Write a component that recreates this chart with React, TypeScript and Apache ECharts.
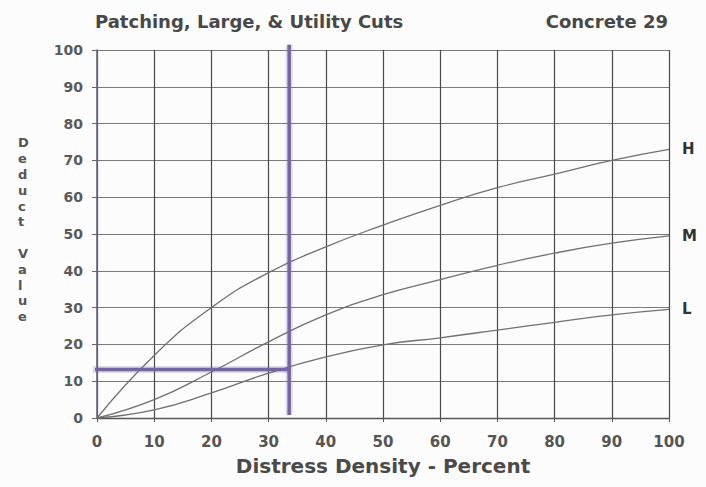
import React, { useEffect, useRef } from "react";
import * as echarts from "echarts";

const densityH = [0, 10, 20, 30, 40, 50, 60, 70, 80, 90, 100];
const valuesH = [0, 17, 30, 39.5, 46.5, 52.4, 57.8, 62.6, 66.3, 70, 73];
const densityM = [0, 10, 20, 30, 40, 50, 60, 70, 80, 90, 100];
const valuesM = [0, 5, 12.5, 20.7, 28, 33.5, 37.6, 41.5, 44.8, 47.5, 49.5];
const densityL = [0, 10, 20, 30, 40, 50, 60, 70, 80, 90, 100];
const valuesL = [0, 2.2, 6.8, 12.2, 16.6, 19.9, 21.8, 23.9, 26, 28, 29.5];
const readX = 33.6;
const readY = 13.2;
const curveLabels = ["H", "M", "L"];
const xTicks = [0, 10, 20, 30, 40, 50, 60, 70, 80, 90, 100];
const yTicks = [0, 10, 20, 30, 40, 50, 60, 70, 80, 90, 100];

const FONT = "DejaVu Sans, Verdana, sans-serif";
const PURPLE = "#7566a0";

function pairs(xs: number[], ys: number[]) {
  return xs.map((x, i) => [x, ys[i]]);
}

export default function App() {
  const ref = useRef<HTMLDivElement>(null);
  useEffect(() => {
    if (!ref.current) return;
    const chart = echarts.init(ref.current, undefined, { renderer: "svg" });
    const curve = (name: string, data: number[][], label: string) => ({
      name,
      type: "line",
      data,
      smooth: true,
      showSymbol: false,
      lineStyle: { color: "#707070", width: 1.3 },
      endLabel: {
        show: true,
        formatter: label,
        color: "#333",
        fontFamily: FONT,
        fontSize: 15,
        fontWeight: "bold",
        distance: 13,
      },
      z: 3,
    });
    const readLine = (name: string, data: number[][], width: number, color: string, z: number) => ({
      name,
      type: "line",
      data,
      clip: false,
      showSymbol: false,
      lineStyle: { color, width },
      z,
      silent: true,
    });
    chart.setOption({
      animation: false,
      backgroundColor: "#fcfcfc",
      grid: { left: 97, right: 37, top: 50, bottom: 69, containLabel: false },
      xAxis: {
        type: "value",
        min: 0,
        max: 100,
        interval: 10,
        name: "Distress Density - Percent",
        nameLocation: "middle",
        nameGap: 38,
        nameTextStyle: { fontFamily: FONT, fontSize: 20, fontWeight: "bold", color: "#4a4a4a" },
        axisLine: { show: true, lineStyle: { color: "#555", width: 1.3 } },
        axisTick: { show: true, length: 4, lineStyle: { color: "#555" } },
        axisLabel: {
          fontFamily: FONT,
          fontSize: 15,
          fontWeight: "bold",
          color: "#555",
          margin: 16,
          formatter: (v: number) => (xTicks.includes(v) ? String(v) : ""),
        },
        splitLine: { show: true, lineStyle: { color: "#4a4a4a", width: 1.2 } },
      },
      yAxis: {
        type: "value",
        min: 0,
        max: 100,
        interval: 10,
        axisLine: { show: true, lineStyle: { color: "#6a6480", width: 1.6 } },
        axisTick: { show: true, length: 5, lineStyle: { color: "#666" } },
        axisLabel: {
          fontFamily: FONT,
          fontSize: 14,
          fontWeight: "bold",
          color: "#5a5a5a",
          margin: 14,
          formatter: (v: number) => (yTicks.includes(v) ? String(v) : ""),
        },
        splitLine: { show: true, lineStyle: { color: "#7a7a7a", width: 1.2 } },
      },
      graphic: [
        {
          type: "text",
          left: 95,
          top: 12,
          style: {
            text: "Patching, Large, & Utility Cuts",
            fontFamily: FONT,
            fontSize: 18,
            fontWeight: "bold",
            fill: "#484848",
          },
        },
        {
          type: "text",
          right: 38,
          top: 12,
          style: {
            text: "Concrete 29",
            fontFamily: FONT,
            fontSize: 18,
            fontWeight: "bold",
            fill: "#484848",
          },
        },
        {
          type: "text",
          left: 18,
          top: 135,
          style: {
            text: "D\ne\nd\nu\nc\nt\n\nV\na\nl\nu\ne",
            fontFamily: FONT,
            fontSize: 13,
            fontWeight: "bold",
            lineHeight: 15.8,
            align: "center",
            fill: "#555",
          },
        },
      ],
      series: [
        curve("H", pairs(densityH, valuesH), curveLabels[0]),
        curve("M", pairs(densityM, valuesM), curveLabels[1]),
        curve("L", pairs(densityL, valuesL), curveLabels[2]),
        readLine("readVGlow", [[readX, 101.4], [readX, 0.8]], 7, "rgba(117,102,160,0.22)", 4),
        readLine("readHGlow", [[-0.9, readY], [readX + 0.3, readY]], 7, "rgba(117,102,160,0.22)", 4),
        readLine("readV", [[readX, 101.4], [readX, 0.8]], 3.5, PURPLE, 5),
        readLine("readH", [[-0.9, readY], [readX + 0.3, readY]], 3.5, PURPLE, 5),
      ],
    });
    return () => chart.dispose();
  }, []);
  return <div ref={ref} style={{ width: 706, height: 487, position: "absolute", left: 0, top: 0 }} />;
}
